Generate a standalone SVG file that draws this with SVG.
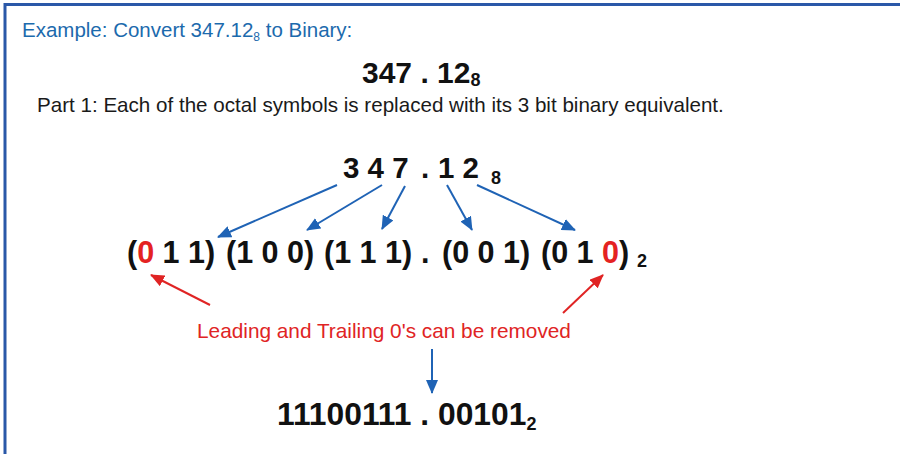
<svg xmlns="http://www.w3.org/2000/svg" width="900" height="454" viewBox="0 0 900 454">
  <defs>
    <marker id="headBlue" markerUnits="userSpaceOnUse" markerWidth="14" markerHeight="12" refX="13" refY="6" orient="auto">
      <path d="M0,0 L14,6 L0,12 Z" fill="#1f63b5"/>
    </marker>
    <marker id="headRed" markerUnits="userSpaceOnUse" markerWidth="14" markerHeight="12" refX="13" refY="6" orient="auto">
      <path d="M0,0 L14,6 L0,12 Z" fill="#e02424"/>
    </marker>
  </defs>
  <style>
    text { font-family: "Liberation Sans", Arial, sans-serif; }
    .b { font-weight: bold; fill: #111; }
    .red { fill: #e42222; }
    .blueLine { stroke: #1f63b5; stroke-width: 2; fill: none; marker-end: url(#headBlue); }
    .redLine { stroke: #e02424; stroke-width: 2; fill: none; marker-end: url(#headRed); }
  </style>
  <rect width="900" height="454" fill="#ffffff"/>
  <g id="frame">
    <line x1="4" y1="4.5" x2="900" y2="4.5" stroke="#2a58a8" stroke-width="3"/>
    <line x1="5" y1="3" x2="5" y2="454" stroke="#2a58a8" stroke-width="3"/>
  </g>
  <g id="title">
    <text x="22" y="37" font-size="20.5" fill="#1c6aad">Example: Convert 347.12<tspan font-size="12" dy="4">8</tspan><tspan dy="-4"> to Binary:</tspan></text>
  </g>
  <g id="heading">
    <text class="b" x="362" y="83" font-size="30">347 . 12<tspan font-size="18" dy="3">8</tspan></text>
  </g>
  <g id="part1">
    <text x="37" y="112" font-size="20.6" fill="#1a1a1a">Part 1: Each of the octal symbols is replaced with its 3 bit binary equivalent.</text>
  </g>
  <g id="octal">
    <text class="b" y="178" font-size="29.5"><tspan x="343">3 4 7</tspan><tspan x="421">.</tspan><tspan x="438">1 2</tspan><tspan x="491" y="184" font-size="18">8</tspan></text>
  </g>
  <g id="binary-groups">
    <text class="b" y="263" font-size="30.5"><tspan x="127">(<tspan class="red">0</tspan> 1 1)</tspan><tspan x="226">(1 0 0)</tspan><tspan x="324">(1 1 1)</tspan><tspan x="421">.</tspan><tspan x="442">(0 0 1)</tspan><tspan x="541">(0 1 <tspan class="red">0</tspan>)</tspan><tspan x="637" y="267" font-size="18">2</tspan></text>
  </g>
  <g id="note">
    <text x="197" y="338" font-size="20.8" fill="#e02424">Leading and Trailing 0's can be removed</text>
  </g>
  <g id="result">
    <text class="b" x="277" y="425" font-size="31.8">11100111 . 00101<tspan font-size="18" dy="5">2</tspan></text>
  </g>
  <g id="connectors">
    <line class="blueLine" x1="337" y1="185" x2="218" y2="237"/>
    <line class="blueLine" x1="382" y1="185" x2="307" y2="230"/>
    <line class="blueLine" x1="405" y1="186" x2="382" y2="229"/>
    <line class="blueLine" x1="447" y1="185" x2="472" y2="230"/>
    <line class="blueLine" x1="477" y1="185" x2="575" y2="230"/>
    <line class="redLine" x1="210" y1="305" x2="151" y2="275"/>
    <line class="redLine" x1="563" y1="313" x2="603" y2="275"/>
    <line class="blueLine" x1="432" y1="349" x2="432" y2="393"/>
  </g>
</svg>
